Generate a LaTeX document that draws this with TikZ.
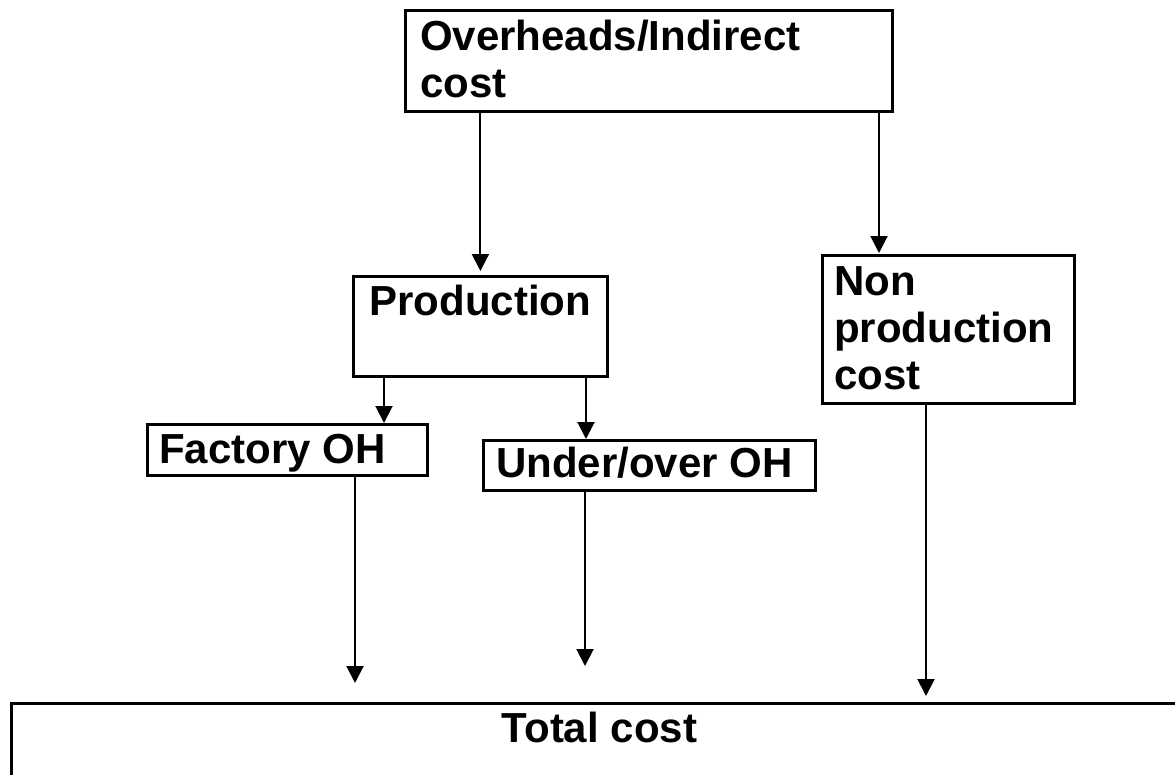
\documentclass[tikz,border=0pt]{standalone}
\usepackage{fontspec}
\setmainfont{Liberation Sans}
\usetikzlibrary{positioning,calc,arrows.meta}

\begin{document}
\begin{tikzpicture}[x=1pt,y=-1pt,>={Triangle[length=17pt,width=17pt]}]
  % styles
  \tikzset{
    box/.style={draw,line width=2.8pt,inner sep=0pt,anchor=north west},
    lbl/.style={font=\fontsize{42}{47}\selectfont\bfseries,inner sep=0pt,align=left,anchor=base west},
    arr/.style={->,line width=2pt}
  }
  \useasboundingbox (0,0) rectangle (1175,774);

  % boxes
  \node[box,minimum width=487pt,minimum height=101pt] (ovh) at (404,9) {};
  \node[box,minimum width=254pt,minimum height=100pt] (prod) at (352,275) {};
  \node[box,minimum width=252pt,minimum height=148pt] (nonp) at (821,254) {};
  \node[box,minimum width=280pt,minimum height=51pt] (fac) at (146,423) {};
  \node[box,minimum width=332pt,minimum height=50pt] (under) at (482,439) {};
  \node[box,minimum width=1176pt,minimum height=130pt] (total) at (10,702) {};

  % labels (base = last line for the two-line ones)
  \node[lbl] (ovhtxt) at ($(ovh.north west)+(16,88)$) {Overheads/Indirect\\cost};
  \node[lbl,anchor=base] (prodtxt) at ($(prod.north)+(0,40)$) {Production};
  \node[lbl] (nonptxt) at ($(nonp.north west)+(13,135)$) {Non\\production\\cost};
  \node[lbl] (factxt) at ($(fac.north west)+(13,40)$) {Factory OH};
  \node[lbl] (undertxt) at ($(under.north west)+(14,38)$) {Under/over OH};
  \node[lbl,anchor=base] (totaltxt) at ($(total.north)+(0,40)$) {Total cost};

  % arrows into the boxes
  \draw[arr,shorten >=4pt] (ovh.south -| prod.north) -- (prod.north);
  \coordinate (nonpin) at ($(nonp.north west)+(58,0)$);
  \draw[arr,shorten >=1pt] (ovh.south -| nonpin) -- (nonpin);
  \coordinate (facin) at ($(fac.north west)+(238,0)$);
  \draw[arr] (prod.south -| facin) -- (facin);
  \coordinate (underin) at ($(under.north west)+(104,0)$);
  \draw[arr] (prod.south -| underin) -- (underin);

  % arrows down to total cost
  \coordinate (facout) at ($(fac.south west)+(209,0)$);
  \draw[arr,shorten >=19pt] (facout) -- (facout |- total.north);
  \coordinate (underout) at ($(under.south west)+(103,0)$);
  \draw[arr,shorten >=36pt] (underout) -- (underout |- total.north);
  \coordinate (nonpout) at ($(nonp.south west)+(105,0)$);
  \draw[arr,shorten >=6pt] (nonpout) -- (nonpout |- total.north);
\end{tikzpicture}
\end{document}
